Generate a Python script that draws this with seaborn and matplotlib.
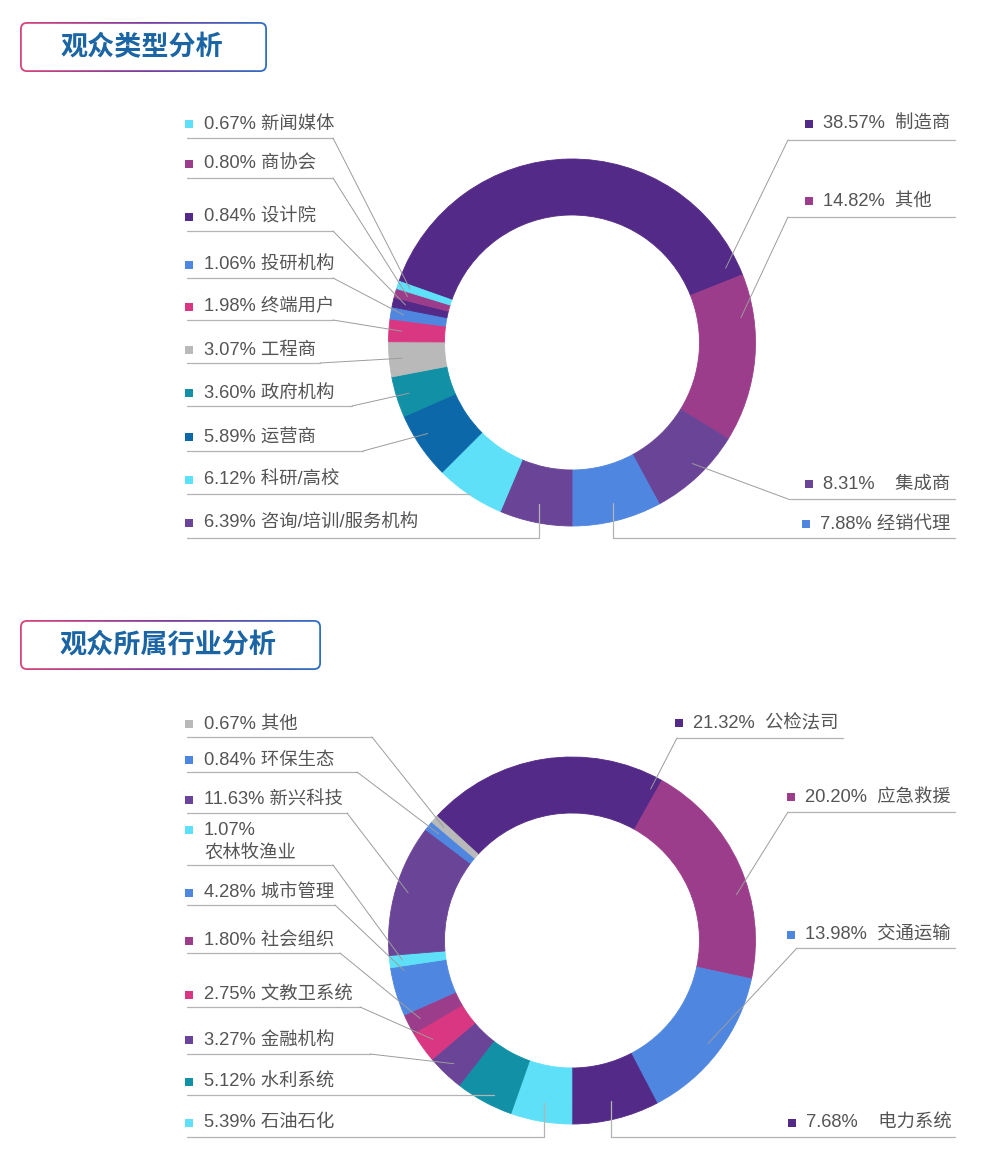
import numpy as np
import matplotlib
matplotlib.use("Agg")
import matplotlib.pyplot as plt
from matplotlib.patches import FancyBboxPatch
from matplotlib.colors import LinearSegmentedColormap
import seaborn as sns

W, H = 992, 1160

# ---- data: 观众类型 ----
type_names = ["制造商", "其他", "集成商", "经销代理", "咨询/培训/服务机构", "科研/高校", "运营商",
              "政府机构", "工程商", "终端用户", "投研机构", "设计院", "商协会", "新闻媒体"]
type_values = [38.57, 14.82, 8.31, 7.88, 6.39, 6.12, 5.89, 3.60, 3.07, 1.98, 1.06, 0.84, 0.80, 0.67]

# ---- data: 观众所属行业 ----
ind_names = ["公检法司", "应急救援", "交通运输", "电力系统", "石油石化", "水利系统", "金融机构",
             "文教卫系统", "社会组织", "城市管理", "农林牧渔业", "新兴科技", "环保生态", "其他"]
ind_values = [21.32, 20.20, 13.98, 7.68, 5.39, 5.12, 3.27, 2.75, 1.80, 4.28, 1.07, 11.63, 0.84, 0.67]

PURPLE_D = "#532a87"
MAGENTA = "#9b3d8a"
PURPLE = "#6a4497"
BLUE = "#4f86e0"
CYAN = "#5ee0f8"
NAVY = "#0d68aa"
TEAL = "#1290a6"
GRAY = "#b9b9b9"
PINK = "#d93781"

type_colors = sns.color_palette([PURPLE_D, MAGENTA, PURPLE, BLUE, PURPLE, CYAN, NAVY,
                                 TEAL, GRAY, PINK, BLUE, PURPLE_D, MAGENTA, CYAN])
ind_colors = sns.color_palette([PURPLE_D, MAGENTA, BLUE, PURPLE_D, CYAN, TEAL, PURPLE,
                                PINK, MAGENTA, BLUE, CYAN, PURPLE, BLUE, GRAY])

# label layout (pixel rows, measured from top): side, text y, line y, elbow x, kind, t along wedge, gap
type_layout = [
    ("R", 124, 140, 788, "diag", 0.97, "  "),
    ("R", 201, 217, 788, "diag", 0.25, "  "),
    ("R", 484, 499, 788, "diag", 0.45, "    "),
    ("R", 524, 538, None, "drop", 0.5, " "),
    ("L", 523, 538, None, "drop", 0.5, " "),
    ("L", 480, 494, None, "flat", 0.5, " "),
    ("L", 437, 451, 363, "diag", 0.6, " "),
    ("L", 393, 406, 352, "diag", 0.5, " "),
    ("L", 350, 363, 320, "diag", 0.5, " "),
    ("L", 307, 320, 333, "diag", 0.5, " "),
    ("L", 265, 278, 333, "diag", 0.5, " "),
    ("L", 217, 231, 333, "diag", 0.5, " "),
    ("L", 164, 178, 333, "diag", 0.5, " "),
    ("L", 124, 138, 333, "diag", 0.5, " "),
]
type_right_x = {0: 809, 1: 809, 2: 809, 3: 806}

ind_layout = [
    ("R", 723, 738, 677, "diag", 0.975, "  "),
    ("R", 797, 812, 788, "diag", 0.62, "  "),
    ("R", 935, 948, 797, "diag", 0.5, "  "),
    ("R", 1123, 1137, None, "drop", 0.5, "    "),
    ("L", 1123, 1137, None, "drop", 0.5, " "),
    ("L", 1082, 1095, None, "flat", 0.4, " "),
    ("L", 1040, 1054, 370, "diag", 0.5, " "),
    ("L", 995, 1007, 360, "diag", 0.5, " "),
    ("L", 941, 953, 340, "diag", 0.5, " "),
    ("L", 893, 905, 335, "diag", 0.9, " "),
    ("L", 842, 865, 333, "diag", 0.5, "\n"),
    ("L", 800, 813, 347, "diag", 0.5, " "),
    ("L", 760, 772, 357, "diag", 0.5, " "),
    ("L", 724, 737, 372, "diag", 0.5, " "),
]
ind_right_x = {0: 679, 1: 791, 2: 791, 3: 792}
ind_right_end = {0: 843}

sns.set_theme(style="white")
plt.rcParams["font.family"] = ["Noto Sans CJK SC", "DejaVu Sans"]
LABEL_FONT = ["Liberation Sans", "Noto Sans CJK SC", "DejaVu Sans"]

fig = plt.figure(figsize=(W / 100, H / 100), dpi=100)
ax = fig.add_axes([0, 0, 1, 1])

TEXT_C = "#555555"
LINE_C = "#b3b3b3"
LEAD_C = "#9c9c9c"


def title_box(x0, y0, x1, y1, text):
    cmap = LinearSegmentedColormap.from_list("tb", ["#d8457a", "#7b3a9f", "#2f6fc2"])
    grad = np.linspace(0, 1, 256)[None, :]
    outer = FancyBboxPatch((x0, H - y1), x1 - x0, y1 - y0,
                           boxstyle="round,pad=0,rounding_size=7",
                           facecolor="none", edgecolor="none")
    ax.add_patch(outer)
    im = ax.imshow(grad, cmap=cmap, extent=(x0, x1, H - y1, H - y0), aspect="auto", zorder=2)
    im.set_clip_path(outer)
    bw = 1.8
    inner = FancyBboxPatch((x0 + bw, H - y1 + bw), x1 - x0 - 2 * bw, y1 - y0 - 2 * bw,
                           boxstyle=f"round,pad=0,rounding_size={7 - bw}",
                           facecolor="white", edgecolor="none", zorder=3)
    ax.add_patch(inner)
    ax.text((x0 + x1) / 2 - 2, H - (y0 + y1) / 2, text, ha="center", va="center",
            fontsize=19.5, fontweight="bold", color="#1b65a5", zorder=4)


def donut(names, values, colors, cx, cy, start, layout, right_x, right_end):
    R, width = 183.5, 56
    cyd = H - cy
    wedges, _ = ax.pie(values, colors=colors, startangle=start, counterclock=False,
                       radius=R, center=(cx, cyd),
                       wedgeprops=dict(width=width, linewidth=0.6))
    for w in wedges:
        w.set_edgecolor(w.get_facecolor())
    frac = np.array(values) / np.sum(values)
    cum = np.concatenate([[0], np.cumsum(frac)])
    for i, (name, v) in enumerate(zip(names, values)):
        side, ty, ly, ex, kind, t, gap = layout[i]
        a = start - 360 * cum[i]
        b = start - 360 * cum[i + 1]
        th = np.radians(a + t * (b - a))
        ldy = H - ly
        if kind == "flat":
            rr = (ldy - cyd) / np.sin(th)
        elif kind == "drop":
            rr = 0.9 * R
        else:
            rr = 0.93 * R
        px, py = cx + rr * np.cos(th), cyd + rr * np.sin(th)
        if side == "L":
            mx, tx = 189, 204
            xe = ex if kind == "diag" else px
            ax.plot([187, xe], [ldy, ldy], color=LINE_C, lw=0.9)
        else:
            mx = right_x[i]
            tx = mx + 14
            xe = ex if kind == "diag" else px
            ax.plot([xe, right_end.get(i, 955)], [ldy, ldy], color=LINE_C, lw=0.9)
        if kind == "diag":
            ax.plot([xe, px], [ldy, py], color=LEAD_C, lw=0.7)
        elif kind == "drop":
            ax.plot([px, px], [ldy, py], color=LINE_C, lw=0.9)
        label = f"{v:.2f}%{gap}{name}"
        if gap == "\n":
            ax.scatter([mx], [H - 830], marker="s", s=30, color=colors[i], linewidths=0)
            ax.text(tx, H - ty, label, ha="left", va="center", fontsize=13.2,
                    color=TEXT_C, linespacing=1.45, family=LABEL_FONT)
        else:
            ax.scatter([mx], [H - ty], marker="s", s=30, color=colors[i], linewidths=0)
            ax.text(tx, H - ty, label, ha="left", va="center", fontsize=13.2,
                    color=TEXT_C, family=LABEL_FONT)


title_box(20, 22, 267, 72, "观众类型分析")
title_box(20, 620, 321, 670, "观众所属行业分析")

donut(type_names, type_values, type_colors, 572, 342.5, 160.5, type_layout, type_right_x, {})
donut(ind_names, ind_values, ind_colors, 572, 940.5, 137.4, ind_layout, ind_right_x, ind_right_end)

ax.set_xlim(0, W)
ax.set_ylim(0, H)
ax.set_aspect("equal")
ax.axis("off")
fig.savefig("out.png", dpi=100, facecolor="white")
